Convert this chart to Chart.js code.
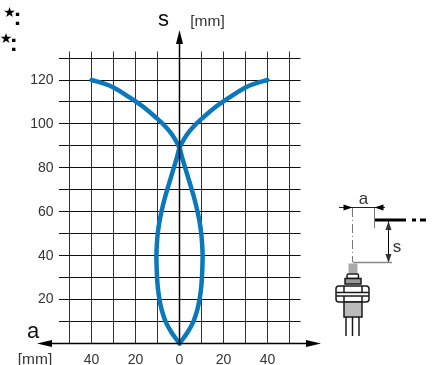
<!DOCTYPE html>
<html>
<head>
<meta charset="utf-8">
<title>Curva de detección</title>
<script src="https://cdn.jsdelivr.net/npm/chart.js@4"></script>
<style>
  html, body { margin: 0; padding: 0; background: #fff; }
  canvas { display: block; }
</style>
</head>
<body>
<canvas id="curvaChart" width="433" height="365"></canvas>
<script>
// Datos
const sCurva = [0, 5, 10, 15, 20, 25, 30, 35, 40, 45, 50, 55, 60, 65, 70, 75, 80, 85, 89, 93, 96.4, 100, 102.3, 107.8, 112, 116.6, 118.6, 120];
const aLobuloIzq = [0, -3.6, -6.3, -8, -9.1, -9.8, -10.2, -10.4, -10.5, -10.3, -9.9, -9.2, -8.2, -7, -5.6, -4.1, -2.6, -1.1, 0, 2, 4.3, 7.5, 10, 16.5, 22.5, 30, 35, 40];
const aLobuloDer = [0, 3.6, 6.3, 8, 9.1, 9.8, 10.2, 10.4, 10.5, 10.3, 9.9, 9.2, 8.2, 7, 5.6, 4.1, 2.6, 1.1, 0, -2, -4.3, -7.5, -10, -16.5, -22.5, -30, -35, -40];

const gridA = [-50, -40, -30, -20, -10, 0, 10, 20, 30, 40, 50];
const gridS = [0, 10, 20, 30, 40, 50, 60, 70, 80, 90, 100, 110, 120, 130];
const etiquetasA = [-40, -20, 0, 20, 40];
const etiquetasS = [20, 40, 60, 80, 100, 120];

const AZUL = "#0a78ba";
const TEXTO = "#333";
const FUENTE = '"Liberation Sans", Arial, sans-serif';

const toPuntos = (xs, ys) => xs.map((x, i) => ({ x, y: ys[i] }));

function flecha(ctx, x, y, dir, largo, ancho) {
  // dir: angulo hacia donde apunta
  ctx.save();
  ctx.translate(x, y);
  ctx.rotate(dir);
  ctx.beginPath();
  ctx.moveTo(0, 0);
  ctx.lineTo(-largo, -ancho / 2);
  ctx.lineTo(-largo, ancho / 2);
  ctx.closePath();
  ctx.fill();
  ctx.restore();
}

function linea(ctx, x1, y1, x2, y2) {
  ctx.beginPath();
  ctx.moveTo(x1, y1);
  ctx.lineTo(x2, y2);
  ctx.stroke();
}

function texto(ctx, str, x, y, font, color, align) {
  ctx.font = font;
  ctx.fillStyle = color;
  ctx.textAlign = align || "center";
  ctx.textBaseline = "middle";
  ctx.fillText(str, x, y);
}

// Ejes con flecha y textos sueltos
const ejesPlugin = {
  id: "ejes",
  afterDatasetsDraw(chart) {
    const ctx = chart.ctx;
    const x0 = chart.scales.x.getPixelForValue(0);
    const y0 = chart.scales.y.getPixelForValue(0);
    ctx.save();
    ctx.strokeStyle = "#000";
    ctx.fillStyle = "#000";
    ctx.lineWidth = 1.5;
    linea(ctx, x0, y0, x0, 40);
    linea(ctx, 45, y0, 312, y0);
    flecha(ctx, x0, 30, -Math.PI / 2, 14, 7);
    flecha(ctx, 37, y0, Math.PI, 15, 7);
    flecha(ctx, 321, y0, 0, 15, 7);

    texto(ctx, "s", 163.5, 19.5, "22px " + FUENTE, "#111");
    texto(ctx, "[mm]", 207.5, 21.5, "15.5px " + FUENTE, TEXTO);
    texto(ctx, "a", 33, 332, "22px " + FUENTE, "#111");
    texto(ctx, "[mm]", 35, 359.5, "15.5px " + FUENTE, TEXTO);

    // marcas sueltas arriba a la izquierda
    texto(ctx, "★", 9.5, 13, '14px "DejaVu Sans"', "#000");
    texto(ctx, ":", 17.5, 18.5, "bold 24px " + FUENTE, "#000");
    texto(ctx, "★", 6, 39, '14px "DejaVu Sans"', "#000");
    texto(ctx, ":", 13.7, 44.5, "bold 24px " + FUENTE, "#000");
    ctx.restore();
  }
};

// Esquema del sensor a la derecha
const sensorPlugin = {
  id: "sensor",
  afterDraw(chart) {
    const ctx = chart.ctx;
    ctx.save();
    ctx.strokeStyle = "#222";
    ctx.fillStyle = "#000";
    ctx.lineWidth = 1;

    // cotas
    linea(ctx, 339, 207.5, 385, 207.5);
    flecha(ctx, 352.5, 207.5, 0, 9, 6);
    flecha(ctx, 374.5, 207.5, Math.PI, 9, 6);
    ctx.strokeStyle = "#777";
    linea(ctx, 374.5, 208, 374.5, 228);
    ctx.setLineDash([9, 3, 1, 3]);
    linea(ctx, 352.5, 208, 352.5, 262);
    ctx.setLineDash([]);
    texto(ctx, "a", 363.5, 199.5, "17px " + FUENTE, TEXTO);

    // blanco
    ctx.strokeStyle = "#000";
    ctx.lineWidth = 3;
    linea(ctx, 375, 220, 406, 220);
    linea(ctx, 412, 220, 416, 220);
    linea(ctx, 420, 220, 426, 220);

    ctx.lineWidth = 1;
    linea(ctx, 388.5, 221, 388.5, 263);
    flecha(ctx, 388.5, 221, -Math.PI / 2, 9, 6);
    flecha(ctx, 388.5, 263, Math.PI / 2, 9, 6);
    ctx.strokeStyle = "#888";
    ctx.lineWidth = 1.5;
    linea(ctx, 353, 262.5, 392, 262.5);
    texto(ctx, "s", 397, 247, "17px " + FUENTE, TEXTO);

    // cuerpo del sensor
    ctx.strokeStyle = "#1a1a1a";
    ctx.lineWidth = 1.5;
    ctx.fillStyle = "#aaa";
    ctx.fillRect(348.5, 263.5, 9, 10);
    ctx.fillStyle = "#fff";
    ctx.beginPath();
    ctx.roundRect(347, 274, 11.5, 4.5, 1.5);
    ctx.fill();
    ctx.stroke();
    ctx.fillStyle = "#999";
    ctx.fillRect(345, 278.5, 16, 5.5);
    ctx.strokeRect(345, 278.5, 16, 5.5);
    ctx.fillStyle = "#fff";
    ctx.beginPath();
    ctx.roundRect(336, 286, 33, 16, 3);
    ctx.fill();
    ctx.stroke();
    linea(ctx, 336, 292.5, 369, 292.5);
    linea(ctx, 336, 296, 369, 296);
    linea(ctx, 344, 286, 344, 292.5);
    linea(ctx, 362, 286, 362, 292.5);
    linea(ctx, 344, 296, 344, 302);
    linea(ctx, 362, 296, 362, 302);
    ctx.fillStyle = "#bbb";
    ctx.fillRect(344, 302, 18, 15);
    ctx.strokeRect(344, 302, 18, 15);
    linea(ctx, 346, 317, 346, 336);
    linea(ctx, 352.5, 317, 352.5, 336);
    linea(ctx, 359, 317, 359, 336);
    ctx.restore();
  }
};

const ctx = document.getElementById("curvaChart").getContext("2d");

const estiloCurva = {
  borderColor: AZUL,
  backgroundColor: AZUL,
  borderWidth: 4.5,
  borderCapStyle: "round",
  borderJoinStyle: "round",
  pointRadius: 0,
  showLine: true,
  tension: 0.4,
  clip: false
};

window.miGrafica = new Chart(ctx, {
  type: "scatter",
  data: {
    datasets: [
      { label: "izq", data: toPuntos(aLobuloIzq, sCurva), ...estiloCurva },
      { label: "der", data: toPuntos(aLobuloDer, sCurva), ...estiloCurva }
    ]
  },
  options: {
    responsive: false,
    animation: false,
    layout: { padding: { top: 51.5, right: 132.5, bottom: 0, left: 0 } },
    plugins: { legend: { display: false }, tooltip: { enabled: false } },
    scales: {
      x: {
        type: "linear",
        min: -55,
        max: 55,
        afterBuildTicks: s => { s.ticks = gridA.map(value => ({ value })); },
        afterFit: s => { s.height = 21.5; },
        grid: { color: "#333", lineWidth: 1, drawTicks: false },
        border: { display: false },
        ticks: {
          autoSkip: false,
          maxRotation: 0,
          padding: 8,
          color: TEXTO,
          font: { family: FUENTE, size: 14 },
          callback: v => etiquetasA.includes(v) ? String(Math.abs(v)) : ""
        }
      },
      y: {
        type: "linear",
        min: 0,
        max: 133,
        afterBuildTicks: s => { s.ticks = gridS.map(value => ({ value })); },
        afterFit: s => { s.width = 58.5; },
        grid: { color: "#111", lineWidth: 1, drawTicks: false },
        border: { display: false },
        ticks: {
          autoSkip: false,
          padding: 5,
          color: TEXTO,
          font: { family: FUENTE, size: 14 },
          callback: v => etiquetasS.includes(v) ? String(v) : ""
        }
      }
    }
  },
  plugins: [ejesPlugin, sensorPlugin]
});
</script>
</body>
</html>
